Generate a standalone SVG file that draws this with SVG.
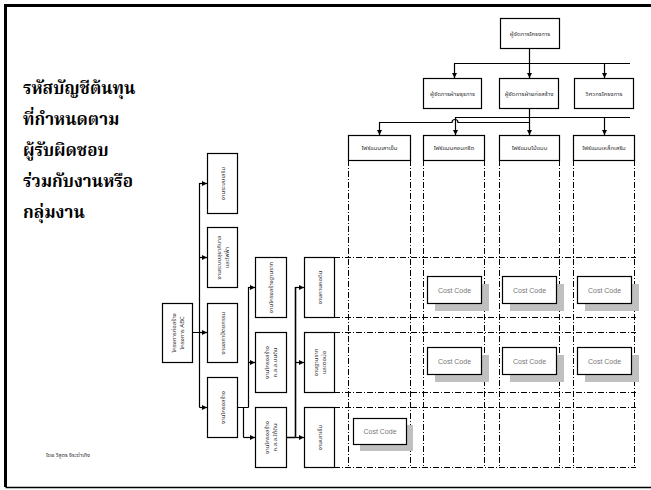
<svg xmlns="http://www.w3.org/2000/svg" width="651" height="490" viewBox="0 0 651 490">
  <defs>
    <marker id="arr" viewBox="0 0 6 6" refX="6" refY="3" markerWidth="5" markerHeight="5" orient="auto" markerUnits="userSpaceOnUse">
      <path d="M0,0 L6,3 L0,6 Z" fill="#000"/>
    </marker>
    <style>
      .box { fill: #fff; stroke: #000; stroke-width: 1.2; }
      .lbl { font-family: "Noto Sans Thai", "Noto Serif Thai", "DejaVu Sans", sans-serif; font-size: 6px; fill: #333; text-anchor: middle; }
      .title { font-family: "Noto Serif Thai", "Noto Sans Thai", "Liberation Serif", serif; font-size: 17px; font-weight: bold; fill: #000; }
      .conn { fill: none; stroke: #000; stroke-width: 1.2; }
      .grid { fill: none; stroke: #000; stroke-width: 1; stroke-dasharray: 6 2 1 2; }
      .cc { fill: #fff; stroke: #000; stroke-width: 1.2; }
      .shadow { fill: #c0c0c0; }
      .cct { font-family: "Liberation Sans", Arial, sans-serif; font-size: 7px; fill: #777; text-anchor: middle; }
    </style>
  </defs>

  <rect x="0" y="0" width="651" height="490" fill="#fff"/>

  <!-- slide frame -->
  <path d="M651,5.5 H5.5 V487" fill="none" stroke="#000" stroke-width="3"/>
  <path d="M5.5,487.5 H651" fill="none" stroke="#000" stroke-width="1.5"/>

  <!-- title -->
  <g id="title">
    <text class="title" x="23" y="94">รหัสบัญชีต้นทุน</text>
    <text class="title" x="23" y="125">ที่กำหนดตาม</text>
    <text class="title" x="23" y="156">ผู้รับผิดชอบ</text>
    <text class="title" x="23" y="187">ร่วมกับงานหรือ</text>
    <text class="title" x="23" y="218">กลุ่มงาน</text>
  </g>
  <text class="lbl" x="68" y="457" style="font-size:5.5px">โดย วิสูตร จิระดำเกิง</text>

  <!-- dash-dot grid of responsibility cells -->
  <g id="grid">
    <path class="grid" d="M348.5,160 V467 M410.5,160 V467 M423.5,160 V467 M484.5,160 V467 M499.5,160 V467 M559.5,160 V467 M573.5,160 V467 M634.5,160 V467"/>
    <path class="grid" d="M334,257.5 H636 M334,317.5 H636 M334,332.5 H636 M334,392.5 H636 M334,407.5 H636 M334,467.5 H636"/>
  </g>

  <!-- connectors -->
  <g id="connectors">
    <path class="conn" d="M529.5,48 V63.5 M454,63.5 H630"/>
    <path class="conn" marker-end="url(#arr)" d="M454.5,63.5 V78"/>
    <path class="conn" marker-end="url(#arr)" d="M529.5,63.5 V78"/>
    <path class="conn" marker-end="url(#arr)" d="M604.5,63.5 V78"/>

    <path class="conn" d="M455,117.5 H630"/>
    <path class="conn" d="M379,122.5 H452 A3,3 0 0 1 458,122.5 H529.5"/>
    <path class="conn" marker-end="url(#arr)" d="M379.5,122.5 V135"/>
    <path class="conn" marker-end="url(#arr)" d="M455.5,117.5 V135"/>
    <path class="conn" marker-end="url(#arr)" d="M529.5,108 V135"/>
    <path class="conn" marker-end="url(#arr)" d="M604.5,117.5 V135"/>

    <path class="conn" d="M192,332.5 H199.5 M199.5,183 V407.5"/>
    <path class="conn" marker-end="url(#arr)" d="M199.5,183.5 H207"/>
    <path class="conn" marker-end="url(#arr)" d="M199.5,257.5 H207"/>
    <path class="conn" marker-end="url(#arr)" d="M199.5,332.5 H207"/>
    <path class="conn" marker-end="url(#arr)" d="M199.5,407.5 H207"/>

    <path class="conn" d="M237,407.5 H248.5 M248.5,287 V407.5 M243.5,407.5 V437.5"/>
    <path class="conn" marker-end="url(#arr)" d="M248.5,287.5 H255"/>
    <path class="conn" marker-end="url(#arr)" d="M248.5,362.5 H255"/>
    <path class="conn" marker-end="url(#arr)" d="M243.5,437.5 H255"/>

    <path class="conn" d="M286,437.5 H295.5 M295.5,287 V437.5" style="stroke-width:1.6"/>
    <path class="conn" marker-end="url(#arr)" d="M295.5,287.5 H304"/>
    <path class="conn" marker-end="url(#arr)" d="M295.5,362.5 H304"/>
    <path class="conn" marker-end="url(#arr)" d="M295.5,437.5 H304"/>
  </g>

  <!-- organisation chart -->
  <g id="pm">
    <rect class="box" x="500.5" y="18.5" width="59" height="30"/>
    <text class="lbl" x="530" y="35.5">ผู้จัดการโครงการ</text>
  </g>
  <g id="admin-manager">
    <rect class="box" x="423.5" y="78.5" width="58" height="30"/>
    <text class="lbl" x="452.5" y="95.5">ผู้จัดการฝ่ายธุรการ</text>
  </g>
  <g id="construction-manager">
    <rect class="box" x="499.5" y="78.5" width="59" height="30"/>
    <text class="lbl" x="529" y="95.5">ผู้จัดการฝ่ายก่อสร้าง</text>
  </g>
  <g id="project-engineer">
    <rect class="box" x="574.5" y="78.5" width="59" height="30"/>
    <text class="lbl" x="604" y="95.5">วิศวกรโครงการ</text>
  </g>
  <g id="foreman-piles">
    <rect class="box" x="348.5" y="135.5" width="62" height="25"/>
    <text class="lbl" x="379.5" y="150">โฟร์แมนเสาเข็ม</text>
  </g>
  <g id="foreman-concrete">
    <rect class="box" x="423.5" y="135.5" width="61" height="25"/>
    <text class="lbl" x="454" y="150">โฟร์แมนคอนกรีต</text>
  </g>
  <g id="foreman-formwork">
    <rect class="box" x="499.5" y="135.5" width="60" height="25"/>
    <text class="lbl" x="529.5" y="150">โฟร์แมนไม้แบบ</text>
  </g>
  <g id="foreman-rebar">
    <rect class="box" x="573.5" y="135.5" width="61" height="25"/>
    <text class="lbl" x="604" y="150">โฟร์แมนเหล็กเสริม</text>
  </g>

  <!-- work breakdown tree -->
  <g id="project">
    <rect class="box" x="162.5" y="303.5" width="30" height="59"/>
    <g transform="translate(177.5,333) rotate(-90)">
      <text class="lbl" x="0" y="-1.5">โครงการก่อสร้าง</text>
      <text class="lbl" x="0" y="6">โครงการ ABC</text>
    </g>
  </g>
  <g id="extra-systems">
    <rect class="box" x="207.5" y="153.5" width="30" height="60"/>
    <text class="lbl" transform="translate(224.5,183.5) rotate(-90)">งานระบบเสริม</text>
  </g>
  <g id="sanitary-electrical">
    <rect class="box" x="207.5" y="227.5" width="30" height="60"/>
    <g transform="translate(222.5,257.5) rotate(-90)">
      <text class="lbl" x="0" y="-1.5">งานระบบสุขาภิบาล</text>
      <text class="lbl" x="0" y="6">และไฟฟ้า</text>
    </g>
  </g>
  <g id="architecture">
    <rect class="box" x="207.5" y="303.5" width="30" height="59"/>
    <text class="lbl" transform="translate(224.5,333) rotate(-90)">งานสถาปัตยกรรม</text>
  </g>
  <g id="structure">
    <rect class="box" x="207.5" y="377.5" width="30" height="60"/>
    <text class="lbl" transform="translate(224.5,407.5) rotate(-90)">งานโครงสร้าง</text>
  </g>
  <g id="foundation-structure">
    <rect class="box" x="255.5" y="257.5" width="31" height="60"/>
    <text class="lbl" transform="translate(273,287.5) rotate(-90)">งานโครงสร้างฐานราก</text>
  </g>
  <g id="rc-above-ground">
    <rect class="box" x="255.5" y="332.5" width="31" height="60"/>
    <g transform="translate(270.5,362.5) rotate(-90)">
      <text class="lbl" x="0" y="-1.5">งานโครงสร้าง</text>
      <text class="lbl" x="0" y="6">ค.ส.ล.บนดิน</text>
    </g>
  </g>
  <g id="rc-below-ground">
    <rect class="box" x="255.5" y="407.5" width="31" height="60"/>
    <g transform="translate(270.5,437.5) rotate(-90)">
      <text class="lbl" x="0" y="-1.5">งานโครงสร้าง</text>
      <text class="lbl" x="0" y="6">ค.ส.ล.ใต้ดิน</text>
    </g>
  </g>
  <g id="grade-beams">
    <rect class="box" x="304.5" y="257.5" width="30" height="60"/>
    <text class="lbl" transform="translate(321.5,287.5) rotate(-90)">งานคานคอดิน</text>
  </g>
  <g id="footings">
    <rect class="box" x="304.5" y="332.5" width="30" height="60"/>
    <g transform="translate(319.5,362.5) rotate(-90)">
      <text class="lbl" x="0" y="-1.5">งานฐานราก</text>
      <text class="lbl" x="0" y="6">และตอม่อ</text>
    </g>
  </g>
  <g id="piles">
    <rect class="box" x="304.5" y="407.5" width="30" height="60"/>
    <text class="lbl" transform="translate(321.5,437.5) rotate(-90)">งานเสาเข็ม</text>
  </g>

  <!-- cost codes -->
  <g id="cc-r1-c2"><rect class="shadow" x="435" y="284" width="54" height="27"/><rect class="cc" x="427.5" y="276.5" width="54" height="27"/><text class="cct" x="454.5" y="292.5">Cost Code</text></g>
  <g id="cc-r1-c3"><rect class="shadow" x="510" y="284" width="54" height="27"/><rect class="cc" x="502.5" y="276.5" width="54" height="27"/><text class="cct" x="529.5" y="292.5">Cost Code</text></g>
  <g id="cc-r1-c4"><rect class="shadow" x="585" y="284" width="54" height="27"/><rect class="cc" x="577.5" y="276.5" width="54" height="27"/><text class="cct" x="604.5" y="292.5">Cost Code</text></g>
  <g id="cc-r2-c2"><rect class="shadow" x="435" y="355" width="54" height="27"/><rect class="cc" x="427.5" y="347.5" width="54" height="27"/><text class="cct" x="454.5" y="363.5">Cost Code</text></g>
  <g id="cc-r2-c3"><rect class="shadow" x="510" y="355" width="54" height="27"/><rect class="cc" x="502.5" y="347.5" width="54" height="27"/><text class="cct" x="529.5" y="363.5">Cost Code</text></g>
  <g id="cc-r2-c4"><rect class="shadow" x="585" y="355" width="54" height="27"/><rect class="cc" x="577.5" y="347.5" width="54" height="27"/><text class="cct" x="604.5" y="363.5">Cost Code</text></g>
  <g id="cc-r3-c1"><rect class="shadow" x="360" y="425" width="53" height="26"/><rect class="cc" x="353.5" y="418.5" width="53" height="26"/><text class="cct" x="380" y="434">Cost Code</text></g>
</svg>
